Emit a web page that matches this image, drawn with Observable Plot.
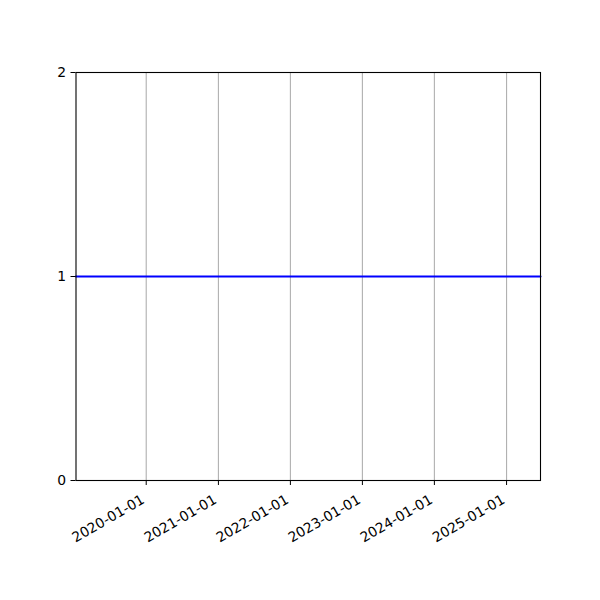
<!DOCTYPE html>
<html>
<head>
<meta charset="utf-8">
<script src="https://cdn.jsdelivr.net/npm/d3@7"></script>
<script src="https://cdn.jsdelivr.net/npm/@observablehq/plot@0.6"></script>
<style>
  html, body { margin: 0; padding: 0; background: white; }
  #chart svg { display: block; }
</style>
</head>
<body>
<div id="chart"></div>
<script>
// X range of the axes (dates)
const xDomain = ["2019-01-10", "2025-06-22"];
// Horizontal series
const lineDates = ["2019-01-10", "2025-06-22"];
const lineValues = [1, 1];
// Tick positions and labels
const xTickDates = ["2020-01-01", "2021-01-01", "2022-01-01", "2023-01-01", "2024-01-01", "2025-01-01"];
const xTickLabels = ["2020-01-01", "2021-01-01", "2022-01-01", "2023-01-01", "2024-01-01", "2025-01-01"];
const yDomain = [0, 2];
const yTicks = [0, 1, 2];

const ticks = xTickDates.map(d => new Date(d));
const lineData = lineDates.map((d, i) => ({date: new Date(d), value: lineValues[i]}));

const chart = Plot.plot({
  width: 600,
  height: 600,
  marginLeft: 75.5,
  marginTop: 72,
  marginRight: 60,
  marginBottom: 120,
  x: {type: "utc", domain: xDomain.map(d => new Date(d))},
  y: {domain: yDomain},
  style: {fontFamily: "DejaVu Sans", fontSize: "13.9px", background: "white", color: "black"},
  marks: [
    Plot.gridX(ticks, {stroke: "#b0b0b0", strokeOpacity: 1, strokeWidth: 1.1}),
    Plot.line(lineData, {x: "date", y: "value", stroke: "#0000ff", strokeWidth: 2.1}),
    Plot.frame({stroke: "black", strokeWidth: 1.1}),
    Plot.axisX(ticks, {
      tickFormat: d => xTickLabels[ticks.findIndex(t => +t === +d)],
      tickRotate: -30, tickSize: 5, tickPadding: 5, label: null, fontSize: 13.9
    }),
    Plot.axisY(yTicks, {tickSize: 5, tickPadding: 5, label: null, tickFormat: d => String(d), fontSize: 13.9})
  ]
});
// shift rotated x tick labels to match matplotlib's top-right bbox anchoring
chart.querySelectorAll("g[aria-label='x-axis tick label']").forEach(g => {
  const t = g.getAttribute("transform") || "";
  g.setAttribute("transform", `translate(-3,8) ${t}`);
});
document.getElementById("chart").appendChild(chart);
</script>
</body>
</html>
